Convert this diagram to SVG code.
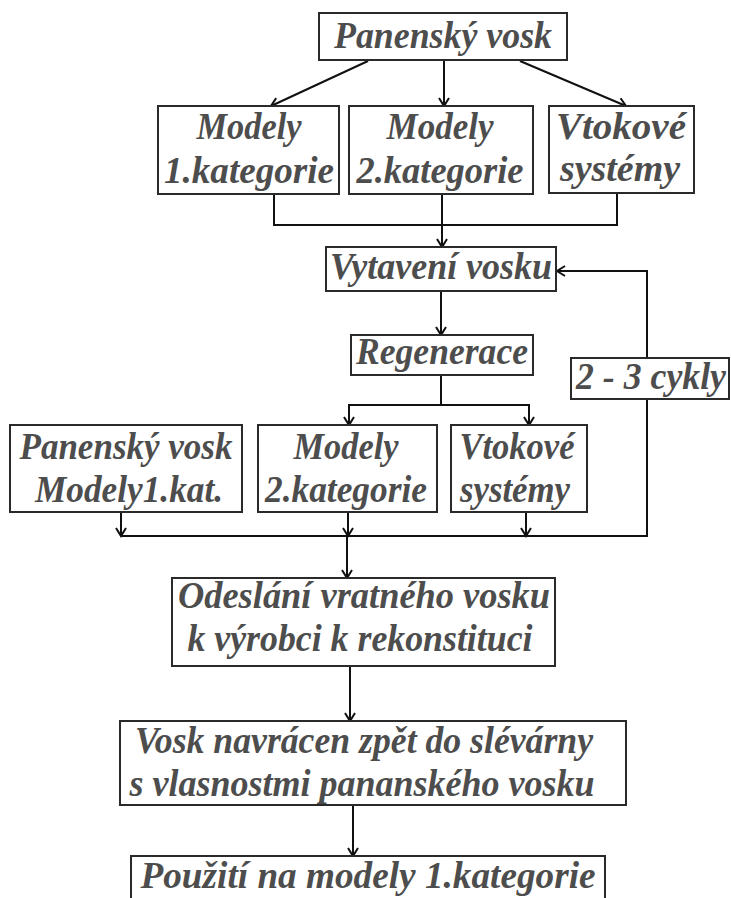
<svg xmlns="http://www.w3.org/2000/svg" width="731" height="898" viewBox="0 0 731 898">
<style>
.box{fill:#fff;stroke:#2a2a2a;stroke-width:2}
.t{font-family:"Liberation Serif","Times New Roman",serif;font-weight:bold;font-style:italic;font-size:37px;fill:#4d4d4d;text-anchor:middle}
.c{fill:none;stroke:#111;stroke-width:2}
</style>
<defs>
<marker id="ah" markerWidth="12" markerHeight="12" refX="10" refY="6" orient="auto" markerUnits="userSpaceOnUse">
<path d="M2,1 L10,6 L2,11" fill="none" stroke="#111" stroke-width="2"/>
</marker>
</defs>
<rect width="731" height="898" fill="#fff"/>
<g id="connectors">
<line class="c" x1="368" y1="61" x2="271" y2="106" marker-end="url(#ah)"/>
<line class="c" x1="444" y1="61" x2="444" y2="106" marker-end="url(#ah)"/>
<line class="c" x1="520" y1="61" x2="626" y2="106" marker-end="url(#ah)"/>
<polyline class="c" points="274,194 274,225 617,225 617,194"/>
<line class="c" x1="442" y1="194" x2="442" y2="247" marker-end="url(#ah)"/>
<line class="c" x1="441" y1="291" x2="441" y2="335" marker-end="url(#ah)"/>
<polyline class="c" points="647,358 647,271 557,271" marker-end="url(#ah)"/>
<line class="c" x1="441" y1="375" x2="441" y2="405"/>
<polyline class="c" points="349,425 349,405 529,405 529,425"/>
<line class="c" x1="349" y1="405" x2="349" y2="425" marker-end="url(#ah)"/>
<line class="c" x1="529" y1="405" x2="529" y2="425" marker-end="url(#ah)"/>
<line class="c" x1="121" y1="512" x2="121" y2="536" marker-end="url(#ah)"/>
<line class="c" x1="348" y1="512" x2="348" y2="536" marker-end="url(#ah)"/>
<line class="c" x1="526" y1="512" x2="526" y2="536" marker-end="url(#ah)"/>
<polyline class="c" points="121,536 647,536 647,399"/>
<line class="c" x1="347" y1="536" x2="347" y2="578" marker-end="url(#ah)"/>
<line class="c" x1="350" y1="666" x2="350" y2="721" marker-end="url(#ah)"/>
<line class="c" x1="353" y1="805" x2="353" y2="856" marker-end="url(#ah)"/>
</g>
<g id="n_top"><rect class="box" x="319" y="13" width="248" height="47"/><text class="t" x="443" y="48" textLength="218" lengthAdjust="spacingAndGlyphs">Panenský vosk</text></g>
<g id="n_m1"><rect class="box" x="158" y="106" width="181" height="88"/><text class="t" x="249" y="139" textLength="105" lengthAdjust="spacingAndGlyphs">Modely</text><text class="t" x="249" y="183" textLength="170" lengthAdjust="spacingAndGlyphs">1.kategorie</text></g>
<g id="n_m2"><rect class="box" x="349" y="106" width="184" height="88"/><text class="t" x="440" y="139" textLength="107" lengthAdjust="spacingAndGlyphs">Modely</text><text class="t" x="440" y="183" textLength="167" lengthAdjust="spacingAndGlyphs">2.kategorie</text></g>
<g id="n_vs"><rect class="box" x="549" y="106" width="145" height="87"/><text class="t" x="621" y="139" textLength="130" lengthAdjust="spacingAndGlyphs">Vtokové</text><text class="t" x="620" y="181" textLength="120" lengthAdjust="spacingAndGlyphs">systémy</text></g>
<g id="n_vyt"><rect class="box" x="326" y="247" width="230" height="44"/><text class="t" x="441" y="279" textLength="222" lengthAdjust="spacingAndGlyphs">Vytavení vosku</text></g>
<g id="n_reg"><rect class="box" x="351" y="335" width="182" height="40"/><text class="t" x="442" y="364" textLength="172" lengthAdjust="spacingAndGlyphs">Regenerace</text></g>
<g id="n_cyk"><rect class="box" x="571" y="358" width="158" height="41"/><text class="t" x="651" y="389" textLength="150" lengthAdjust="spacingAndGlyphs">2 - 3 cykly</text></g>
<g id="n_pv2"><rect class="box" x="10" y="425" width="232" height="87"/><text class="t" x="126" y="459" textLength="213" lengthAdjust="spacingAndGlyphs">Panenský vosk</text><text class="t" x="129" y="502" textLength="188" lengthAdjust="spacingAndGlyphs">Modely1.kat.</text></g>
<g id="n_m2b"><rect class="box" x="258" y="425" width="179" height="87"/><text class="t" x="346" y="459" textLength="105" lengthAdjust="spacingAndGlyphs">Modely</text><text class="t" x="346" y="502" textLength="162" lengthAdjust="spacingAndGlyphs">2.kategorie</text></g>
<g id="n_vs2"><rect class="box" x="451" y="425" width="136" height="87"/><text class="t" x="517" y="459" textLength="115" lengthAdjust="spacingAndGlyphs">Vtokové</text><text class="t" x="515" y="502" textLength="110" lengthAdjust="spacingAndGlyphs">systémy</text></g>
<g id="n_ode"><rect class="box" x="172" y="578" width="383" height="88"/><text class="t" x="364" y="608" textLength="372" lengthAdjust="spacingAndGlyphs">Odeslání vratného vosku</text><text class="t" x="360" y="651" textLength="345" lengthAdjust="spacingAndGlyphs">k výrobci k rekonstituci</text></g>
<g id="n_vosk"><rect class="box" x="120" y="721" width="506" height="84"/><text class="t" x="364" y="753" textLength="458" lengthAdjust="spacingAndGlyphs">Vosk navrácen zpět do slévárny</text><text class="t" x="362" y="796" textLength="465" lengthAdjust="spacingAndGlyphs">s vlasnostmi pananského vosku</text></g>
<g id="n_pou"><rect class="box" x="131" y="856" width="474" height="56"/><text class="t" x="368" y="888" textLength="455" lengthAdjust="spacingAndGlyphs">Použití na modely 1.kategorie</text></g>
</svg>
